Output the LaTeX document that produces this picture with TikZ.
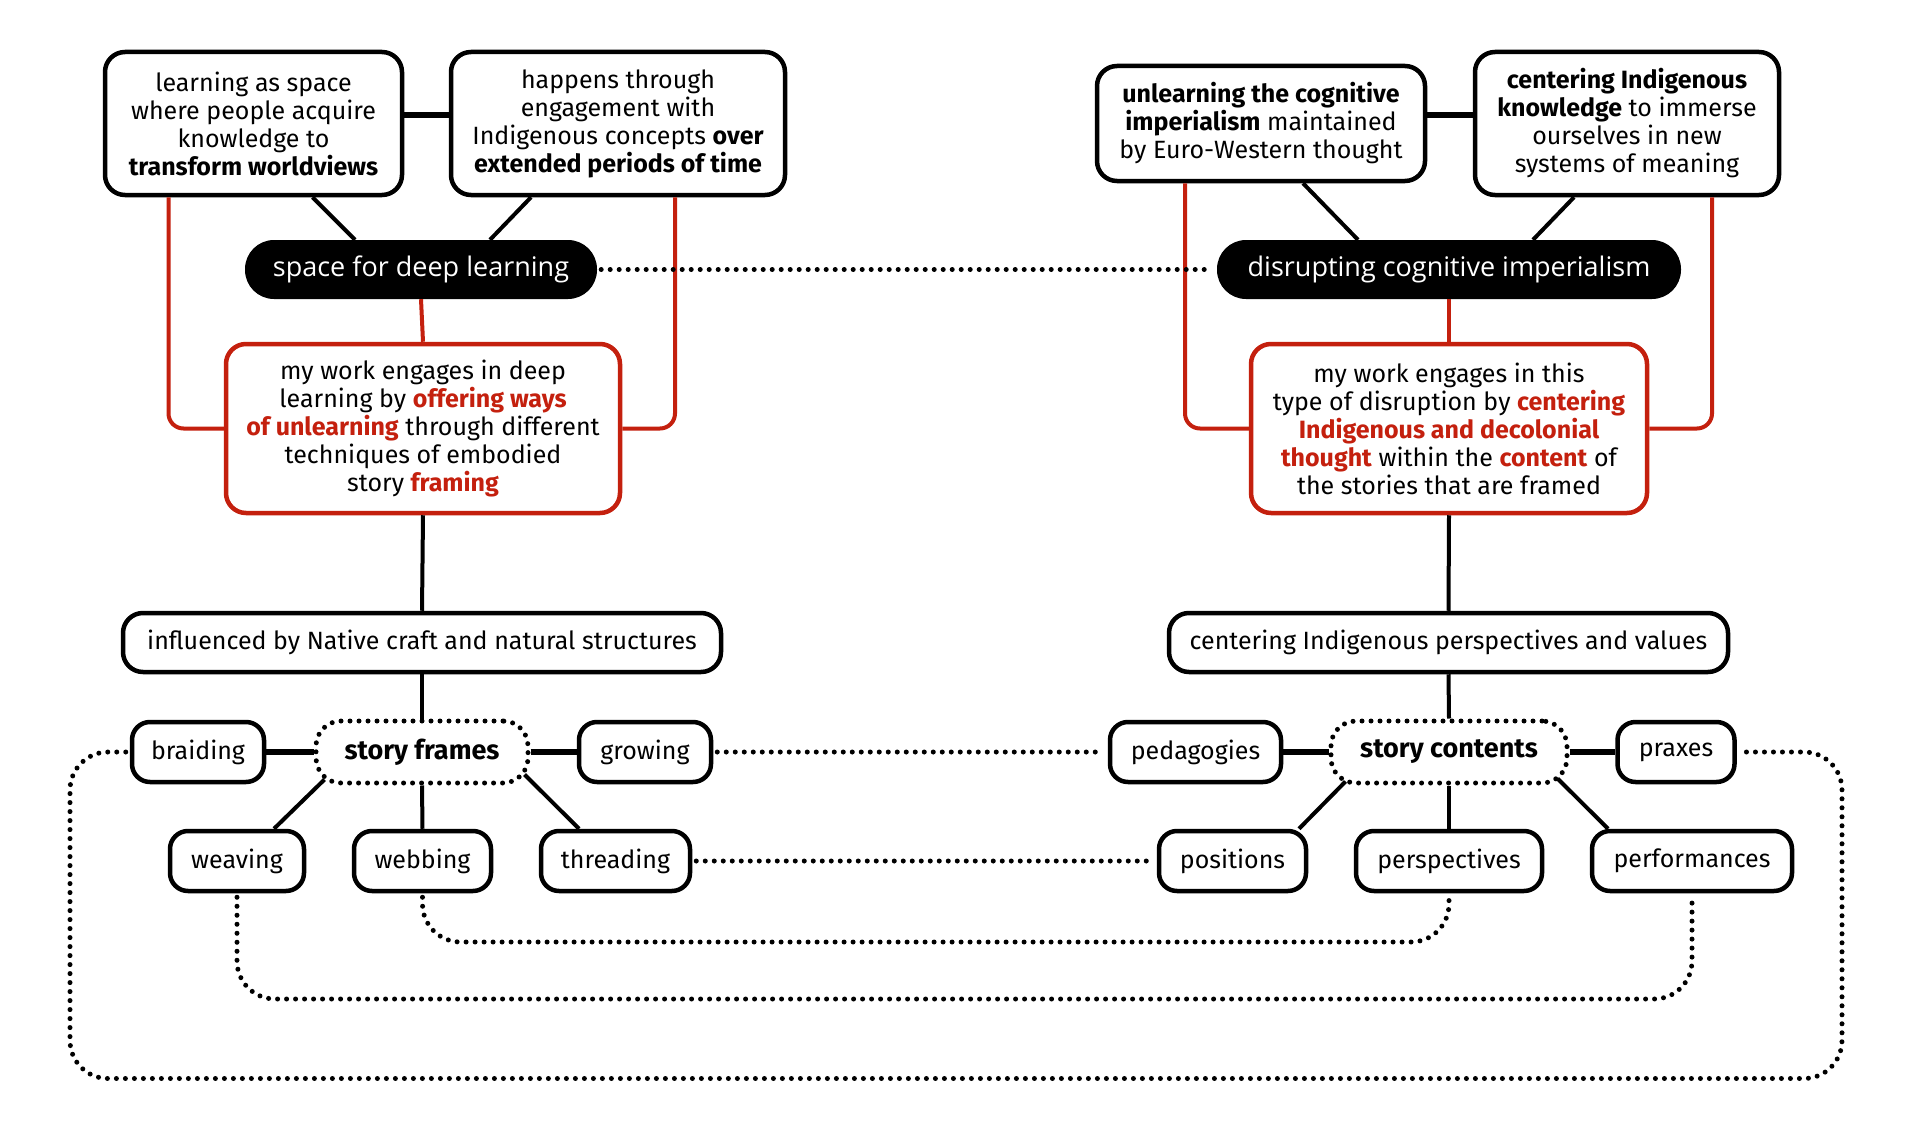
\documentclass[tikz,border=0pt]{standalone}
\usepackage{fontspec}
\setmainfont{Fira Sans}
\newfontfamily\pillfont{Open Sans}
\usetikzlibrary{calc}
\definecolor{myred}{RGB}{196,32,14}
\newcommand{\rd}[1]{\textcolor{myred}{\textbf{#1}}}
\begin{document}
\begin{tikzpicture}[x=1pt,y=-1pt,
  every node/.style={font=\fontsize{25}{28}\selectfont},
  box/.style={draw, line width=4.5, rounded corners=20, align=center, inner sep=0, fill=white},
  redbox/.style={box, draw=myred},
  pill/.style={fill=black, text=white, rounded corners=29, inner sep=0, minimum height=59,
    font=\pillfont\fontsize{27}{30}\selectfont},
  small/.style={box, rounded corners=18, minimum height=60},
  dotbox/.style={draw, line width=5, dash pattern=on 0pt off 9pt, line cap=round,
    rounded corners=25, inner sep=0, minimum height=62, fill=white,
    font=\fontsize{27}{30}\selectfont\bfseries},
  conn/.style={line width=4},
  thickconn/.style={line width=6},
  redconn/.style={draw=myred, line width=4, rounded corners=15},
  dotconn/.style={line width=5, dash pattern=on 0pt off 9pt, line cap=round, rounded corners=38}
]
\useasboundingbox[fill=white] (0,0) rectangle (1920,1129);

% top left
\node[box, minimum width=297, minimum height=143] (A) at (253.5,123.5)
  {learning as space\\where people acquire\\knowledge to\\\textbf{transform worldviews}};
\node[box, minimum width=334, minimum height=143] (B) at (618,123.5)
  {happens through\\engagement with\\Indigenous concepts \textbf{over}\\\textbf{extended periods of time}};
\node[pill, minimum width=352] (P1) at (421,269.5) {space for deep learning};
\node[redbox, minimum width=394, minimum height=169] (R1) at (423,428.5)
  {my work engages in deep\\learning by \rd{offering ways}\\\rd{of unlearning} through different\\techniques of embodied\\story \rd{framing}};

% top right
\node[box, minimum width=328, minimum height=115] (C) at (1261,123.5)
  {\textbf{unlearning the cognitive}\\\textbf{imperialism} maintained\\by Euro-Western thought};
\node[box, minimum width=304, minimum height=143] (D) at (1627,123.5)
  {\textbf{centering Indigenous}\\\textbf{knowledge} to immerse\\ourselves in new\\systems of meaning};
\node[pill, minimum width=464] (P2) at (1449,269.5) {disrupting cognitive imperialism};
\node[redbox, minimum width=396, minimum height=169] (R2) at (1449,428.5)
  {my work engages in this\\type of disruption by \rd{centering}\\\rd{Indigenous and decolonial}\\\rd{thought} within the \rd{content} of\\the stories that are framed};

% middle
\node[box, minimum width=598, minimum height=59] (I1) at (422,642.5)
  {influenced by Native craft and natural structures};
\node[box, minimum width=559, minimum height=59] (I2) at (1448.5,642.5)
  {centering Indigenous perspectives and values};

% story frames cluster
\node[dotbox, minimum width=212] (SF) at (422,752) {story frames};
\node[small, minimum width=132] (braiding) at (198,752) {braiding};
\node[small, minimum width=132] (growing) at (645,752) {growing};
\node[small, minimum width=134] (weaving) at (237,861) {weaving};
\node[small, minimum width=137] (webbing) at (422.5,861) {webbing};
\node[small, minimum width=149] (threading) at (615.5,861) {threading};

% story contents cluster
\node[dotbox, minimum width=236] (SC) at (1449,752) {story contents};
\node[small, minimum width=171] (pedagogies) at (1195.5,752) {pedagogies};
\node[small, minimum width=117] (praxes) at (1676,752) {praxes};
\node[small, minimum width=147] (positions) at (1232.5,861) {positions};
\node[small, minimum width=186] (perspectives) at (1449,861) {perspectives};
\node[small, minimum width=200] (performances) at (1692,861) {performances};

\coordinate (yA) at (0,942);
\coordinate (yB) at (0,999);
\coordinate (loopL) at (70,1078.5);
\coordinate (loopR) at (1842,1078.5);

% solid connectors
\draw[thickconn] ([yshift=8.5]A.east) -- ([yshift=8.5]B.west);
\draw[thickconn] ([yshift=8.5]C.east) -- ([yshift=8.5]D.west);
\draw[conn] ([xshift=59]A.south) -- ([xshift=-66]P1.north);
\draw[conn] ([xshift=-87]B.south) -- ([xshift=69]P1.north);
\draw[conn] ([xshift=42]C.south) -- ([xshift=-91]P2.north);
\draw[conn] ([xshift=-53]D.south) -- ([xshift=84]P2.north);

\draw[redconn] ([xshift=-85]A.south) |- (R1.west);
\draw[redconn] ([xshift=57]B.south) |- (R1.east);
\draw[redconn] ([xshift=-76]C.south) |- (R2.west);
\draw[redconn] ([xshift=85]D.south) |- (R2.east);
\draw[redconn] (P1.south) -- (R1.north);
\draw[redconn] (P2.south) -- (R2.north);

\draw[conn] (R1.south) -- (I1.north);
\draw[conn] (R2.south) -- (I2.north);
\draw[conn] (I1.south) -- (SF.north);
\draw[conn] (I2.south) -- (SC.north);

\draw[thickconn] (braiding.east) -- (SF.west);
\draw[thickconn] (SF.east) -- (growing.west);
\draw[conn] ([shift={(11,-6)}]SF.south west) -- ([xshift=37]weaving.north);
\draw[conn] (SF.south) -- (webbing.north);
\draw[conn] ([shift={(-6,-11)}]SF.south east) -- ([xshift=-36.5]threading.north);

\draw[thickconn] (pedagogies.east) -- (SC.west);
\draw[thickconn] (SC.east) -- (praxes.west);
\draw[conn] ([shift={(17,-4)}]SC.south west) -- ([xshift=66.5]positions.north);
\draw[conn] (SC.south) -- (perspectives.north);
\draw[conn] ([shift={(-12,-7)}]SC.south east) -- ([xshift=-84]performances.north);

% dotted connectors
\draw[dotconn] ([xshift=4]P1.east) -- ([xshift=-4]P2.west);
\draw[dotconn] ([xshift=4]growing.east) -- ([xshift=-4]pedagogies.west);
\draw[dotconn] ([xshift=4]threading.east) -- ([xshift=-4]positions.west);
\draw[dotconn] ([yshift=-4]webbing.south) -- (webbing.south |- yA) -- (perspectives.south |- yA) -- ([yshift=-4]perspectives.south);
\draw[dotconn] ([yshift=-4]weaving.south) -- (weaving.south |- yB) -- (performances.south |- yB) -- ([yshift=-4]performances.south);
\draw[dotconn] ([xshift=-4]braiding.west) -- (braiding.west -| loopL) -- (loopL) -- (loopR) -- (praxes.east -| loopR) -- ([xshift=4]praxes.east);
\end{tikzpicture}
\end{document}
